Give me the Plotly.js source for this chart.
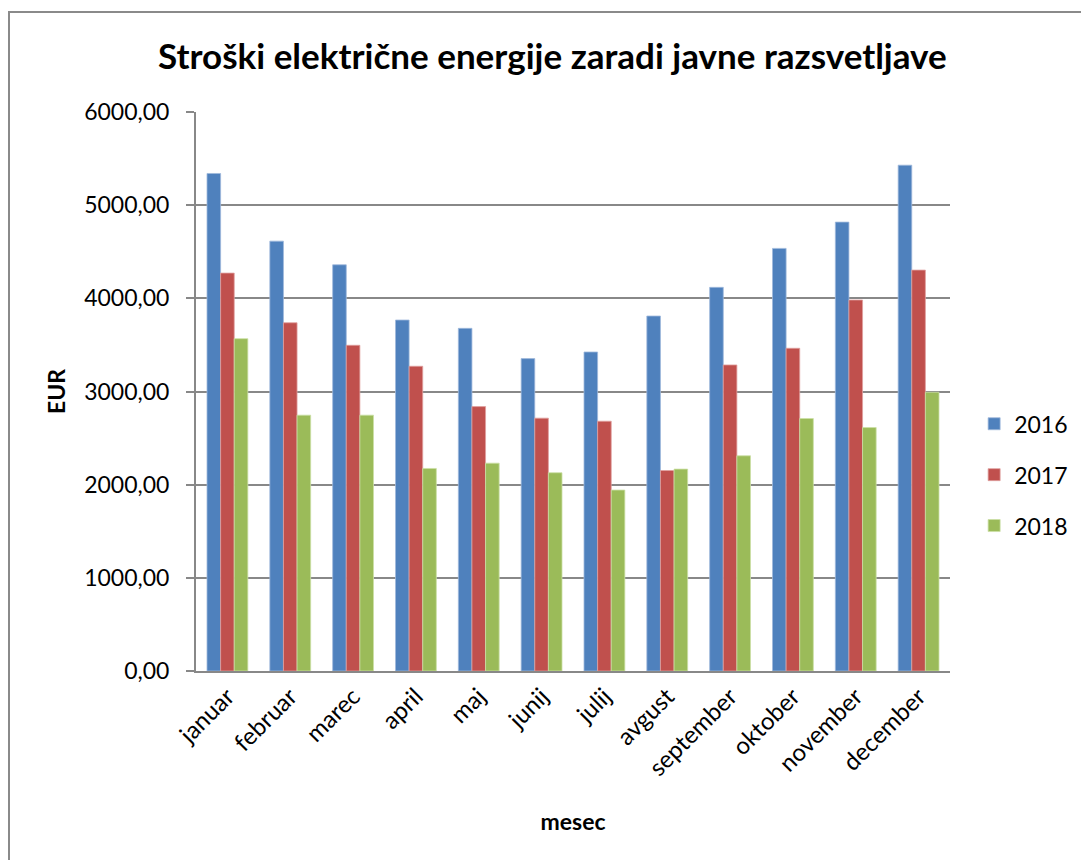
<!DOCTYPE html>
<html>
<head>
<meta charset="utf-8">
<script src="https://cdn.plot.ly/plotly-3.0.1.min.js"></script>
<style>
  html, body { margin: 0; padding: 0; background: #fff; }
  #frame { position: absolute; left: 8px; top: 11px; width: 1100px; height: 900px;
           border-left: 2px solid #8a8a8a; border-top: 2px solid #8a8a8a; pointer-events: none; }
  #chart { width: 1081px; height: 860px; }
</style>
</head>
<body>
<div id="chart"></div>
<div id="frame"></div>
<script>
const months = ["januar","februar","marec","april","maj","junij","julij","avgust","september","oktober","november","december"];
const v2016 = [5340, 4614, 4360, 3767, 3678, 3353, 3424, 3810, 4118, 4536, 4818, 5429];
const v2017 = [4271, 3738, 3496, 3271, 2838, 2714, 2681, 2152, 3285, 3464, 3982, 4303];
const v2018 = [3567, 2746, 2746, 2174, 2231, 2128, 1942, 2167, 2310, 2710, 2613, 2992];
const seriesNames = ["2016", "2017", "2018"];
const colors = ["#4F81BD", "#C0504D", "#9BBB59"];
const edges = ["#9fb9dc", "#e0a09e", "#cbe0a6"];
const yTicks = [0, 1000, 2000, 3000, 4000, 5000, 6000];

const font = "Lato, 'Open Sans', sans-serif";
const data = [v2016, v2017, v2018].map((vals, i) => ({
  type: "bar",
  name: seriesNames[i],
  x: months,
  y: vals,
  legendgroup: seriesNames[i],
  marker: { color: colors[i], line: { color: edges[i], width: 0.8 } },
  hoverinfo: "x+y+name"
}));

const layout = {
  width: 1081, height: 860,
  margin: { l: 196, r: 131, t: 112, b: 189, autoexpand: false },
  paper_bgcolor: "#ffffff", plot_bgcolor: "#ffffff",
  separators: ",.",
  font: { family: font, size: 23, color: "#000" },
  title: {
    text: "<b>Stroški električne energije zaradi javne razsvetljave</b>",
    font: { family: font, size: 35, color: "#000" },
    x: 0.511, xref: "container", xanchor: "center",
    y: 1 - 57/860, yref: "container", yanchor: "middle"
  },
  barmode: "group",
  bargap: 0.35,
  bargroupgap: 0,
  xaxis: {
    type: "category",
    tickangle: -45,
    showline: true, linecolor: "#888888", linewidth: 2,
    ticks: "", showgrid: false,
    tickfont: { family: font, size: 24 },
    title: { text: "<b>mesec</b>", font: { family: font, size: 23 }, standoff: 34 },
    automargin: false
  },
  yaxis: {
    range: [0, 6000],
    tickvals: yTicks,
    tickformat: ".2f",
    showline: true, linecolor: "#888888", linewidth: 2,
    ticks: "outside", ticklen: 8, tickcolor: "#888888", tickwidth: 2,
    showgrid: true, gridcolor: "#888888", gridwidth: 2,
    zeroline: false,
    tickfont: { family: font, size: 23 },
    ticklabelstandoff: 12,
    title: { text: "<b>EUR</b>", font: { family: font, size: 23 }, standoff: 12 },
    automargin: false
  },
  showlegend: true,
  legend: {
    x: 1.032, xanchor: "left",
    y: 0.351, yanchor: "middle",
    tracegroupgap: 18,
    font: { family: font, size: 23 },
    bgcolor: "rgba(0,0,0,0)"
  }
};

Plotly.newPlot("chart", data, layout, { displayModeBar: false, staticPlot: true });
</script>
</body>
</html>
